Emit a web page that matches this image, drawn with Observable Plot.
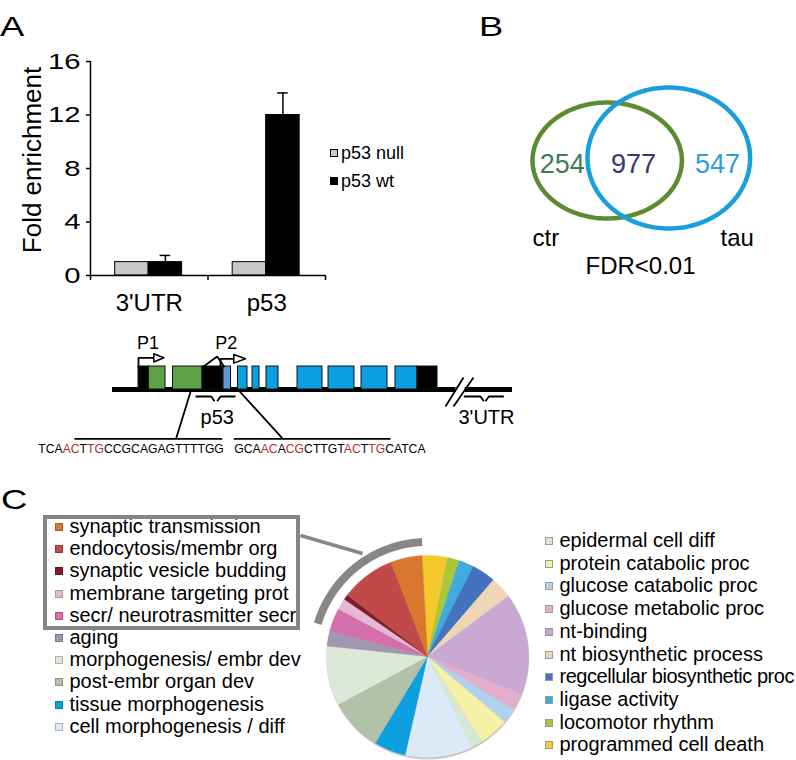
<!DOCTYPE html>
<html>
<head>
<meta charset="utf-8">
<script src="https://cdn.jsdelivr.net/npm/d3@7"></script>
<script src="https://cdn.jsdelivr.net/npm/@observablehq/plot@0.6"></script>
<style>
  body { margin: 0; background: #fff; }
  #fig { position: relative; width: 796px; height: 760px; overflow: hidden; background: #fff;
         font-family: "Liberation Sans", Arial, Helvetica, sans-serif; color: #000; }
  .abs { position: absolute; white-space: nowrap; line-height: 1; }
  #fig svg { position: absolute; }
</style>
</head>
<body>
<div id="fig"></div>
<script>
// ================= DATA =================
// Panel A: ChIP fold enrichment
const genes = ["3'UTR", "p53"];
const conditions = ["p53 null", "p53 wt"];
const nullEnrichment = [1, 1];
const wtEnrichment = [1, 12];
const wtError = [0.5, 1.65];
const yTicks = [0, 4, 8, 12, 16];
const conditionColors = ["#c8c8c8", "#000000"];

// Panel A: gene schematic (diagram units)
const exonStart = [0, 10.5, 34.5, 64, 85, 99.5, 114, 128, 159, 190, 223, 257, 279];
const exonEnd   = [10.5, 27, 64, 85, 92.5, 109, 121, 140, 184, 216, 249, 279, 299];
const exonKind  = ["UTR", "P1 exon", "P1 exon", "UTR", "P2 exon", "common", "common", "common", "common", "common", "common", "common", "UTR"];
const exonKinds = ["UTR", "P1 exon", "P2 exon", "common"];
const exonColors = ["#000000", "#5ea247", "#5b9ad6", "#0b9ee0"];
const promoterNames = ["P1", "P2"];
const primerNames = ["p53", "3'UTR"];
const seq1 = "TCAACTTGCCGCAGAGTTTTGG";
const seq1Red = [[3, 5], [6, 8]];
const seq2 = "GCAACACGCTTGTACTTGCATCA";
const seq2Red = [[3, 5], [6, 8], [13, 15], [16, 18]];

// Panel B: Venn
const vennSets = ["ctr", "tau"];
const vennCounts = [254, 977, 547]; // ctr only, both, tau only
const vennNote = "FDR<0.01";

// Panel C: GO categories (share of pie, %)
const goLeftTerms = ["synaptic transmission", "endocytosis/membr org", "synaptic vesicle budding",
  "membrane targeting prot", "secr/ neurotrasmitter secr", "aging", "morphogenesis/ embr dev",
  "post-embr organ dev", "tissue morphogenesis", "cell morphogenesis / diff"];
const goLeftValues = [5.0, 8.7, 0.8, 1.8, 3.75, 2.4, 9.5, 8.5, 5.1, 10.75];
const goLeftColors = ["#d9772f", "#c1494a", "#7b1e2b", "#e6b6d5", "#d56fab", "#a197b1", "#dce9d9",
  "#b2c2a8", "#0ca0e0", "#dce9f6"];
const goRightTerms = ["epidermal cell diff", "protein catabolic proc", "glucose catabolic proc",
  "glucose metabolic proc", "nt-binding", "nt biosynthetic process", "regcellular biosynthetic proc",
  "ligase activity", "locomotor rhythm", "programmed cell death"];
const goRightValues = [1.9, 4.7, 2.4, 2.8, 16.2, 3.5, 3.8, 2.4, 1.9, 4.1];
const goRightColors = ["#d6e8d1", "#f7f0a7", "#b0d1ef", "#e3aecb", "#c9a9d3", "#eed5b4", "#4372bf",
  "#40aadf", "#a9c73a", "#f4c92e"];
const highlightedCount = 5; // first five left-legend terms are boxed

// ================= HELPERS =================
const FONT = '"Liberation Sans", Arial, Helvetica, sans-serif';
const fig = document.getElementById("fig");
function addPlot(svg, left, top) {
  svg.style.left = left + "px";
  svg.style.top = top + "px";
  fig.appendChild(svg);
  return svg;
}
function label(str, x, baseline, size, opts = {}) {
  const el = document.createElement("div");
  el.className = "abs";
  el.textContent = str;
  el.style.fontSize = size + "px";
  el.style.left = x + "px";
  el.style.top = (baseline - 0.8465 * size) + "px";
  if (opts.color) el.style.color = opts.color;
  if (opts.anchor === "middle") el.style.transform = "translateX(-50%)";
  if (opts.stretch) { el.style.transformOrigin = "0 50%"; el.style.transform = `scaleX(${opts.stretch})`; }
  fig.appendChild(el);
  return el;
}
// widen svg text horizontally about its anchor point
function stretchText(nodes, k) {
  nodes.forEach(t => {
    const x = parseFloat(t.getAttribute("x")) || 0;
    const tr = t.getAttribute("transform") || "";
    t.setAttribute("transform", `${tr} translate(${x},0) scale(${k},1) translate(${-x},0)`.trim());
  });
}
const baseStyle = {fontFamily: FONT, background: "transparent", overflow: "visible", color: "#000"};

// ================= PANEL A: bars =================
const barRows = genes.flatMap((g, i) => conditions.map((c, j) => ({
  gene: g, i, j, cond: c,
  value: j === 0 ? nullEnrichment[i] : wtEnrichment[i],
  err: j === 0 ? null : wtError[i]
})));
const barOffset = 0.21, barW = 0.285;
const bx1 = d => d.i + barOffset + d.j * barW;
const bx2 = d => bx1(d) + barW;
const errRows = barRows.filter(d => d.err != null);
const ex = d => bx1(d) + barW / 2;

const barSvg = addPlot(Plot.plot({
  width: 340, height: 320,
  marginLeft: 90, marginRight: 15, marginTop: 61, marginBottom: 45,
  x: {domain: [0, genes.length], axis: null},
  y: {domain: [0, 16], axis: null},
  color: {domain: conditions, range: conditionColors},
  style: {...baseStyle, fontSize: "22px"},
  marks: [
    Plot.ruleX(errRows, {x: ex, y1: "value", y2: d => d.value + d.err, strokeWidth: 1.5}),
    Plot.ruleY(errRows, {x1: d => ex(d) - 0.045, x2: d => ex(d) + 0.045, y: d => d.value + d.err, strokeWidth: 1.5}),
    Plot.rectY(barRows, {x1: bx1, x2: bx2, y1: 0, y2: "value", fill: "cond", stroke: "#000", strokeWidth: 1}),
    Plot.axisY({ticks: yTicks, tickSize: 4, tickPadding: 6, label: null, fontSize: 22, strokeWidth: 1.5}),
    Plot.ruleX([0], {strokeWidth: 1.5}),
    Plot.ruleY([0], {strokeWidth: 1.5}),
    Plot.axisX({ticks: d3.range(genes.length + 1), tickSize: 5, tickFormat: () => "", label: null, strokeWidth: 1.5}),
    Plot.axisX({ticks: genes.map((g, i) => i + 0.5), tickSize: 0, tickPadding: 18,
      tickFormat: d => genes[Math.floor(d)], label: null, fontSize: 24})
  ]
}), 0, 0);
stretchText(Array.from(barSvg.querySelectorAll("text")).filter(t => /^\d+$/.test(t.textContent.trim())), 1.33);

// ================= PANEL A: gene schematic =================
const exons = exonStart.map((s, k) => ({start: s, end: exonEnd[k], kind: exonKind[k]}));
const backbone = [{from: -26, to: 317.5}, {from: 326.7, to: 374}];
const paths = [
  {id: "p1", pts: [[0, 22], [0, 31.7], [15.3, 31.7]]},
  {id: "caret", pts: [[63, 21.5], [78.7, 33], [86, 22.3]]},
  {id: "p2", pts: [[82, 22], [82, 30.7], [95.3, 30.7]]},
  {id: "pr1", pts: [[57, -7], [72.7, -7], [76, -11.7]]},
  {id: "pr2", pts: [[97, -7], [82, -7], [78.7, -11.7]]},
  {id: "pr3", pts: [[325.3, -7], [342, -7], [345.3, -11.7]]},
  {id: "pr4", pts: [[365.3, -7], [350.3, -7], [347, -11.7]]},
  {id: "br1", pts: [[307, -17], [325, 12]]},
  {id: "br2", pts: [[315, -17], [335, 12]]},
  {id: "c1", pts: [[52, -2.5], [37.7, -48.7]]},
  {id: "c2", pts: [[100.3, -1], [143.7, -48.7]]},
  {id: "s1", pts: [[-64, -49.3], [83.7, -49.3]]},
  {id: "s2", pts: [[95.3, -49.3], [252, -49.3]]}
];
const pathPts = paths.flatMap(p => p.pts.map(([x, y]) => ({id: p.id, x, y})));
const heads = [
  {id: "h1", pts: [[15.3, 35.7], [25.3, 31.7], [15.3, 27.5]]},
  {id: "h2", pts: [[95.3, 35], [107, 30.7], [95.3, 26.4]]}
];
const headPts = heads.flatMap(p => p.pts.map(([x, y]) => ({id: p.id, x, y})));
const geneLabels = [
  {t: promoterNames[0], x: 9.5, y: 40.7, size: 18},
  {t: promoterNames[1], x: 87.8, y: 41, size: 18},
  {t: primerNames[0], x: 78.7, y: -34, size: 20},
  {t: primerNames[1], x: 348, y: -34, size: 20}
];

addPlot(Plot.plot({
  width: 530, height: 140, margin: 0,
  x: {domain: [-138, 392], range: [0, 530], axis: null},
  y: {domain: [-71, 69], range: [140, 0], axis: null},
  color: {domain: exonKinds, range: exonColors},
  style: baseStyle,
  marks: [
    Plot.ruleY(backbone, {y: () => 0, x1: "from", x2: "to", strokeWidth: 5, stroke: "#000"}),
    Plot.rect(exons, {x1: "start", x2: "end", y1: 0, y2: 23, fill: "kind", stroke: "#111", strokeWidth: 1}),
    Plot.line(pathPts, {x: "x", y: "y", z: "id", stroke: "#000", strokeWidth: 1.8, strokeLinecap: "butt", strokeLinejoin: "miter"}),
    Plot.line(headPts, {x: "x", y: "y", z: "id", fill: "#fff", stroke: "#000", strokeWidth: 1.5, curve: "linear-closed"}),
    Plot.text(geneLabels, {x: "x", y: "y", text: "t", fontSize: d => d.size, lineAnchor: "bottom", textAnchor: "middle"})
  ]
}), 0, 320);

// sequences
function seqText(seq, reds, x, baseline) {
  const el = label("", x, baseline, 12.2);
  let cur = 0;
  const addSpan = (s, red) => {
    const sp = document.createElement("span");
    sp.textContent = s;
    if (red) sp.style.color = "#b3302b";
    el.appendChild(sp);
  };
  reds.forEach(([a, b]) => {
    if (a > cur) addSpan(seq.slice(cur, a), false);
    addSpan(seq.slice(a, b), true);
    cur = b;
  });
  if (cur < seq.length) addSpan(seq.slice(cur), false);
}
seqText(seq1, seq1Red, 38.3, 453.3);
seqText(seq2, seq2Red, 234.3, 453.3);

// panel A legend
conditions.forEach((c, k) => {
  const cy = 153 + k * 28;
  const sq = document.createElement("div");
  sq.style.cssText = `position:absolute;left:330px;top:${cy - 4}px;width:8px;height:8px;box-sizing:border-box;background:${conditionColors[k]};border:1px solid #000`;
  fig.appendChild(sq);
  label(c, 341, cy + 6.5, 18);
});

// y-axis title
const yl = document.createElement("div");
yl.className = "abs";
yl.textContent = "Fold enrichment";
yl.style.cssText += "font-size:26px;left:32px;top:160px;transform:translate(-50%,-50%) rotate(-90deg);";
fig.appendChild(yl);

// ================= PANEL B: Venn =================
const vennShapes = [
  {set: vennSets[0], cx: 206.7, cy: 160, rx: 74.7, ry: 58},
  {set: vennSets[1], cx: 268.3, cy: 157.5, rx: 81.3, ry: 70.5}
];
const ellipsePts = vennShapes.flatMap(s => d3.range(0, 360, 2).map(a => ({
  set: s.set, x: s.cx + s.rx * Math.cos(a * Math.PI / 180), y: s.cy + s.ry * Math.sin(a * Math.PI / 180)
})));
const regionKeys = ["ctr only", "both", "tau only"];
const countRows = vennCounts.map((n, k) => ({key: regionKeys[k], n, x: [161.7, 233, 317][k], y: 172}));
const setLabels = [
  {t: vennSets[0], x: 132, y: 245},
  {t: vennSets[1], x: 320, y: 245},
  {t: vennNote, x: 185, y: 273}
];
addPlot(Plot.plot({
  width: 396, height: 300, margin: 0,
  x: {domain: [0, 396], range: [0, 396], axis: null},
  y: {domain: [0, 300], range: [0, 300], axis: null},
  color: {domain: [...vennSets, ...regionKeys], range: ["#5b8c32", "#1a9fdb", "#3e7a5a", "#393675", "#2ba0d7"]},
  style: baseStyle,
  marks: [
    Plot.line(ellipsePts, {x: "x", y: "y", z: "set", stroke: "set", strokeWidth: 4.5, curve: "linear-closed"}),
    Plot.text(countRows, {x: "x", y: "y", text: d => String(d.n), fill: "key", fontSize: 27, lineAnchor: "bottom", textAnchor: "middle"}),
    Plot.text(setLabels, {x: "x", y: "y", text: "t", fontSize: 24, lineAnchor: "bottom", textAnchor: "start"})
  ]
}), 400, 0);

// ================= PANEL C: pie =================
const pieTerms = [...goRightTerms].reverse().concat([...goLeftTerms].reverse());
const pieValues = [...goRightValues].reverse().concat([...goLeftValues].reverse());
const pieColors = [...goRightColors].reverse().concat([...goLeftColors].reverse());
const startA = -3.2 * Math.PI / 180;
const arcs = d3.pie().sort(null).startAngle(startA).endAngle(startA + 2 * Math.PI)(pieValues);
const deg = Math.PI / 180;
const slicePts = arcs.flatMap((a, k) => {
  const term = pieTerms[k];
  const n = Math.max(2, Math.ceil((a.endAngle - a.startAngle) / deg));
  const pts = [{term, x: 0, y: 0}];
  for (let j = 0; j <= n; j++) {
    const t = a.startAngle + (a.endAngle - a.startAngle) * j / n;
    pts.push({term, x: Math.sin(t), y: Math.cos(t)});
  }
  return pts;
});
const discPts = d3.range(0, 361, 2).map(a => ({x: Math.sin(a * deg), y: Math.cos(a * deg)}));
const hiTerms = goLeftTerms.slice(0, highlightedCount);
const hiArcs = arcs.filter((a, k) => hiTerms.includes(pieTerms[k]));
const hiStart = d3.min(hiArcs, a => a.startAngle) + 2 * deg;
const hiEnd = d3.max(hiArcs, a => a.endAngle) + 0.5 * deg;
const hiR = 1.134;
const hiPts = d3.range(0, 101).map(j => {
  const t = hiStart + (hiEnd - hiStart) * j / 100;
  return {x: hiR * Math.sin(t), y: hiR * Math.cos(t)};
});
const pieCx = 427, pieCy = 656, pieR = 101, half = 130;
const toPie = ([px, py]) => ({x: (px - pieCx) / pieR, y: (pieCy - py) / pieR});
const connector = [[300, 535], [362, 553]].map(toPie);
const R = half / pieR;

addPlot(Plot.plot({
  width: 2 * half, height: 2 * half, margin: 0,
  x: {domain: [-R, R], axis: null},
  y: {domain: [-R, R], axis: null},
  color: {domain: pieTerms, range: pieColors},
  style: baseStyle,
  marks: [
    Plot.line(discPts, {x: "x", y: "y", fill: "#bdbdbd", stroke: "#cfcfcf", strokeWidth: 1, dy: 1.5, dx: 0.3, curve: "linear-closed"}),
    Plot.line(slicePts, {x: "x", y: "y", z: "term", fill: "term", stroke: "term", strokeWidth: 0.4, curve: "linear-closed"}),
    Plot.line(hiPts, {x: "x", y: "y", stroke: "#878787", strokeWidth: 8, strokeLinecap: "butt"}),
    Plot.line(connector, {x: "x", y: "y", stroke: "#878787", strokeWidth: 3.5, strokeLinecap: "butt"})
  ]
}), pieCx - half, pieCy - half);

// GO legends
function goLegend(terms, colors, squareX, textX, y0, step, size, border) {
  terms.forEach((t, k) => {
    const cy = y0 + k * step;
    const sq = document.createElement("div");
    sq.style.cssText = `position:absolute;left:${squareX}px;top:${cy - 4}px;width:8px;height:8px;box-sizing:border-box;background:${colors[k]};border:1px solid ${border}`;
    fig.appendChild(sq);
    const el = label(t, textX, cy + 6, size);
    const avail = 794 - textX;
    const w = el.getBoundingClientRect().width;
    if (w > avail) el.style.letterSpacing = (-(w - avail) / t.length) + "px";
  });
}
goLegend(goLeftTerms, goLeftColors, 55, 69.5, 527, 22.2, 20, "rgba(0,0,0,0.22)");
goLegend(goRightTerms, goRightColors, 545, 559.5, 541, 22.7, 20, "#9a9a9a");

// highlight box
const box = document.createElement("div");
box.style.cssText = "position:absolute;left:43px;top:515px;width:257px;height:115px;box-sizing:border-box;border:4px solid #858585;";
fig.appendChild(box);

// panel letters
label("A", 0, 37, 28, {stretch: 1.3});
label("B", 479, 37, 28, {stretch: 1.3});
label("C", 1, 510, 28, {stretch: 1.3});
</script>
</body>
</html>
